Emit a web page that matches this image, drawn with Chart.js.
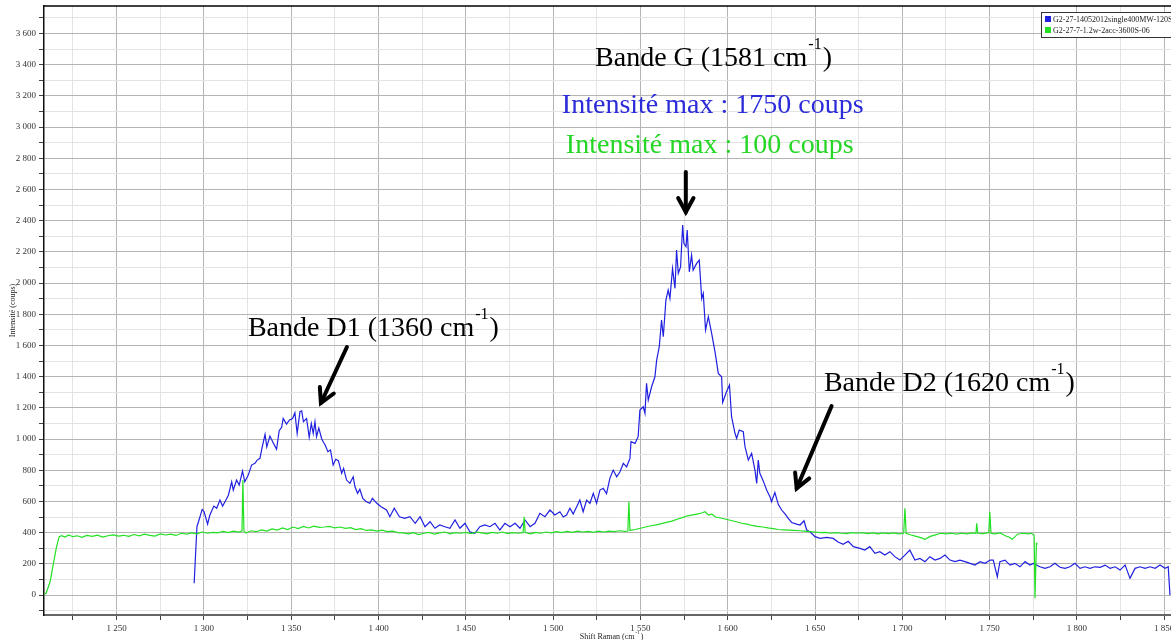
<!DOCTYPE html>
<html>
<head>
<meta charset="utf-8">
<title>Spectre Raman</title>
<script src="https://cdn.jsdelivr.net/npm/chart.js@4.4.1/dist/chart.umd.min.js"></script>
<style>
  html, body { margin: 0; padding: 0; background: #fff; overflow: hidden; }
  #wrap { width: 1171px; height: 640px; overflow: hidden; }
  canvas { display: block; }
</style>
</head>
<body>
<div id="wrap"><canvas id="raman" width="1200" height="640"></canvas></div>
<script>
const seriesLabels = ['G2-27-14052012single400MW-120S-01', 'G2-27-7-1.2w-2acc-3600S-06'];

const blueSpectrum = [
  [1294.4,75],[1296.0,438],[1297.2,481],[1299.0,549],[1300.1,534],[1302.1,455],[1303.4,513],[1305.7,570],
  [1307.3,556],[1309.2,609],[1310.7,570],[1312.6,609],[1314.0,640],[1315.9,726],[1316.8,673],[1318.7,737],
  [1320.2,705],[1322.1,795],[1323.4,726],[1325.4,769],[1327.3,833],[1329.2,844],[1330.5,865],[1332.1,876],
  [1333.0,929],[1335.0,1030],[1336.0,950],[1337.8,1019],[1339.5,980],[1341.6,934],[1343.1,1053],[1344.5,1075],
  [1345.4,1132],[1347.3,1096],[1349.0,1122],[1350.8,1132],[1352.1,1169],[1353.4,1036],[1355.0,1175],[1356.0,1181],
  [1357.0,1111],[1358.8,1132],[1360.3,1011],[1361.5,1100],[1362.6,1036],[1363.6,1111],[1364.5,1015],[1365.8,1070],
  [1367.4,1004],[1368.3,983],[1369.5,960],[1371.0,919],[1372.5,930],[1374.0,833],[1375.5,870],[1377.0,861],
  [1378.9,780],[1380.0,812],[1381.7,737],[1383.6,716],[1385.5,758],[1386.5,694],[1388.0,652],[1389.3,678],
  [1391.0,620],[1393.0,598],[1395.0,588],[1396.5,620],[1399.0,588],[1401.5,566],[1404.6,545],[1406.5,502],
  [1409.0,556],[1412.0,502],[1415.0,492],[1418.0,502],[1421.0,460],[1423.8,502],[1426.6,438],[1429.5,470],
  [1432.3,428],[1435.0,449],[1438.0,438],[1440.9,428],[1443.8,481],[1446.6,428],[1449.5,460],[1452.3,406],
  [1455.2,396],[1458.0,438],[1460.9,449],[1463.8,438],[1466.7,460],[1469.5,417],[1472.4,460],[1475.3,438],
  [1478.2,460],[1481.0,428],[1483.9,481],[1486.8,438],[1489.6,460],[1492.4,524],[1495.3,502],[1498.2,545],
  [1501.0,513],[1503.9,534],[1505.8,500],[1507.7,513],[1509.6,556],[1511.5,520],[1513.5,566],[1515.3,609],
  [1517.2,534],[1519.2,609],[1521.1,588],[1523.0,652],[1524.9,588],[1526.8,673],[1528.7,684],[1530.6,650],
  [1532.5,748],[1534.4,801],[1536.4,758],[1538.3,790],[1540.2,844],[1542.1,822],[1544.0,876],[1544.6,983],
  [1546.9,972],[1548.7,1015],[1549.7,1186],[1551.6,1207],[1552.6,1165],[1553.5,1357],[1554.5,1250],[1556.4,1335],
  [1558.3,1399],[1559.3,1506],[1560.8,1592],[1562.1,1763],[1563.1,1656],[1564.6,1891],[1565.9,1955],[1566.9,1902],
  [1568.4,2094],[1569.8,1966],[1570.7,2212],[1571.7,2062],[1573.0,2104],[1574.2,2372],[1574.9,2254],[1576.1,2233],
  [1576.8,2340],[1578.0,2072],[1579.3,2179],[1580.2,2083],[1582.2,2126],[1583.7,2147],[1585.1,1900],[1586.0,1934],
  [1587.3,1699],[1588.9,1784],[1590.8,1677],[1592.7,1560],[1594.6,1421],[1596.5,1399],[1597.1,1235],[1599.2,1300],
  [1601.0,1346],[1602.2,1143],[1604.1,1040],[1605.1,1004],[1606.6,1058],[1608.9,1047],[1609.9,951],[1611.8,865],
  [1613.7,908],[1615.6,801],[1616.6,716],[1617.5,865],[1618.4,780],[1620.4,730],[1622.3,673],[1624.2,630],
  [1625.1,598],[1627.0,657],[1629.0,580],[1630.9,545],[1632.8,520],[1634.7,492],[1636.6,465],[1639.5,455],
  [1641.4,449],[1643.7,476],[1645.2,417],[1647.1,406],[1650.0,374],[1652.9,363],[1656.7,370],[1660.4,363],
  [1663.2,340],[1666.1,325],[1669.0,345],[1672.0,310],[1675.7,299],[1678.5,288],[1681.4,310],[1684.3,267],
  [1687.1,278],[1690.0,256],[1692.9,278],[1695.7,246],[1698.6,224],[1701.5,256],[1704.3,288],[1707.2,224],
  [1710.1,235],[1713.0,214],[1715.8,246],[1718.7,224],[1721.6,235],[1724.4,256],[1727.3,224],[1730.2,214],
  [1733.0,224],[1735.9,214],[1738.8,203],[1741.6,192],[1744.5,214],[1747.4,203],[1750.3,224],[1752.1,224],
  [1754.4,117],[1755.9,214],[1758.8,224],[1761.7,192],[1764.5,203],[1767.4,181],[1770.3,214],[1773.1,192],
  [1775.0,203],[1778.8,181],[1781.7,171],[1784.6,181],[1787.4,203],[1790.3,178],[1793.2,171],[1796.0,181],
  [1798.9,203],[1801.8,171],[1804.6,181],[1807.5,171],[1810.4,181],[1813.3,178],[1816.1,192],[1819.0,171],
  [1821.9,181],[1824.7,160],[1827.6,192],[1830.4,107],[1833.3,171],[1836.2,181],[1839.0,171],[1841.9,181],
  [1844.8,171],[1847.6,192],[1850.5,171],[1852.3,181],[1853.3,0]
];

const greenSpectrum = [
  [1208.5,5],[1209.6,11],[1211.9,85],[1213.8,203],[1215.6,310],[1217.1,374],[1218.5,380],[1220.5,372],
  [1222.5,385],[1225.0,374],[1227.5,380],[1230,370],[1233,382],[1236,376],[1239,384],[1242,372],
  [1245,380],[1248,386],[1251,378],[1254,383],[1257,376],[1260,388],[1263,380],[1266,390],
  [1269,383],[1272,378],[1275,392],[1278,385],[1281,390],[1284,382],[1287,396],[1290,390],
  [1293,398],[1296,392],[1299,404],[1302,396],[1305,402],[1308,398],[1311,408],[1314,400],
  [1317,410],[1320,404],[1321.8,410],[1322.3,737],[1322.9,410],[1324,398],[1327,412],[1330,406],
  [1333,418],[1336,410],[1339,424],[1342,416],[1345,430],[1348,420],[1351,436],[1354,426],
  [1357,440],[1360,430],[1363,442],[1366,434],[1369,436],[1372,440],[1375,430],[1378,436],
  [1381,428],[1384,432],[1387,420],[1390,425],[1393,414],[1396,418],[1399,410],[1402,416],
  [1405,406],[1408,410],[1411,400],[1414,398],[1417,392],[1420,400],[1423,388],[1426,396],
  [1429,402],[1432,390],[1435,398],[1438,404],[1441,392],[1444,400],[1447,396],[1450,402],
  [1453,394],[1456,404],[1459,398],[1462,392],[1465,402],[1468,396],[1471,404],[1474,394],
  [1477,400],[1480,396],[1482.8,400],[1483.4,502],[1484,400],[1487,392],[1490,402],[1493,396],
  [1496,404],[1499,398],[1502,406],[1505,400],[1508,408],[1511,402],[1514,410],[1517,404],
  [1520,408],[1523,402],[1526,410],[1529,404],[1532,410],[1535,406],[1538,412],[1541,408],
  [1542.8,410],[1543.4,598],[1544,414],[1547,420],[1550,428],[1553,436],[1556,444],[1559,450],
  [1562,458],[1565,466],[1568,474],[1571,486],[1574,496],[1577,508],[1580,514],[1583,520],
  [1585,526],[1587,534],[1589,512],[1591,518],[1593,500],[1596,494],[1599,486],[1602,478],
  [1605,470],[1608,460],[1611,454],[1614,446],[1617,440],[1620,436],[1623,430],[1626,426],
  [1629,420],[1632,418],[1635,416],[1638,414],[1641,412],[1644,410],[1647,406],[1650,404],
  [1653,400],[1656,402],[1659,396],[1662,400],[1665,396],[1668,394],[1671,400],[1674,396],
  [1677,400],[1680,394],[1683,398],[1686,392],[1689,398],[1692,394],[1695,398],[1698,392],
  [1700.8,396],[1701.5,556],[1702.2,396],[1705,385],[1708,376],[1711,366],[1713,357],[1716,376],
  [1719,386],[1722,396],[1725,392],[1728,396],[1731,390],[1734,396],[1737,392],[1740,398],
  [1742.2,396],[1742.6,460],[1743.2,396],[1746,394],[1749.5,400],[1750.1,534],[1750.8,396],[1753,392],
  [1756,398],[1759,380],[1761,372],[1763,357],[1766,390],[1769,396],[1772,392],[1774,396],
  [1775.5,385],[1776,-20],[1776.8,331],[1777.5,325]
];

// Graduations
const xTicks = [1225, 1250, 1275, 1300, 1325, 1350, 1375, 1400, 1425, 1450, 1475, 1500, 1525,
  1550, 1575, 1600, 1625, 1650, 1675, 1700, 1725, 1750, 1775, 1800, 1825, 1850];
const yTicks = [-100, 0, 100, 200, 300, 400, 500, 600, 700, 800, 900, 1000, 1100, 1200, 1300,
  1400, 1500, 1600, 1700, 1800, 1900, 2000, 2100, 2200, 2300, 2400, 2500, 2600, 2700, 2800,
  2900, 3000, 3100, 3200, 3300, 3400, 3500, 3600, 3700];

// Annotations (coordonnées dans le repère des données)
const labels = [
  { text: 'Bande G (1581 cm', sup: '-1', tail: ')', x: 1524, y: 3391, color: '#000000' },
  { text: 'Intensité max : 1750 coups', x: 1505, y: 3090, color: '#2b2bd9' },
  { text: 'Intensité max : 100 coups', x: 1507.3, y: 2833, color: '#26d626' },
  { text: 'Bande D1 (1360 cm', sup: '-1', tail: ')', x: 1325.2, y: 1660, color: '#000000' },
  { text: 'Bande D2 (1620 cm', sup: '-1', tail: ')', x: 1655.1, y: 1308, color: '#000000' }
];
const arrows = [
  { from: [1576, 2712], to: [1576, 2455] },
  { from: [1381.9, 1590], to: [1367, 1231] },
  { from: [1659.5, 1212], to: [1639.5, 684] }
];

const SERIF = '"Liberation Serif", "Times New Roman", serif';
const BLUE = '#2020e0';
const GREEN = '#22e022';

function fmt(v) {
  return String(v).replace(/\B(?=(\d{3})+(?!\d))/g, ' ');
}

// texte avec exposant
function drawSupText(ctx, x, y, size, color, text, sup, tail) {
  ctx.save();
  ctx.fillStyle = color;
  ctx.textBaseline = 'alphabetic';
  ctx.textAlign = 'left';
  ctx.font = size + 'px ' + SERIF;
  ctx.fillText(text, x, y);
  let cx = x + ctx.measureText(text).width;
  if (sup) {
    const s = Math.round(size * 0.58);
    ctx.font = s + 'px ' + SERIF;
    ctx.fillText(sup, cx + 1, y - size * 0.62);
    cx += ctx.measureText(sup).width + 2;
    ctx.font = size + 'px ' + SERIF;
    ctx.fillText(tail, cx, y);
  }
  ctx.restore();
}

const decorations = {
  id: 'decorations',
  afterDatasetsDraw(chart) {
    const { ctx, chartArea, scales } = chart;
    const xs = scales.x, ys = scales.y;

    // bord supérieur
    ctx.save();
    ctx.strokeStyle = '#000';
    ctx.lineWidth = 1.5;
    ctx.beginPath();
    ctx.moveTo(chartArea.left, chartArea.top);
    ctx.lineTo(chartArea.right, chartArea.top);
    ctx.stroke();
    ctx.restore();

    // textes
    labels.forEach(l => {
      drawSupText(ctx, xs.getPixelForValue(l.x), ys.getPixelForValue(l.y), 28, l.color, l.text, l.sup, l.tail);
    });

    // flèches
    ctx.save();
    ctx.strokeStyle = '#000';
    ctx.lineWidth = 4;
    ctx.lineCap = 'round';
    ctx.lineJoin = 'miter';
    arrows.forEach(a => {
      const x1 = xs.getPixelForValue(a.from[0]), y1 = ys.getPixelForValue(a.from[1]);
      const x2 = xs.getPixelForValue(a.to[0]), y2 = ys.getPixelForValue(a.to[1]);
      const ang = Math.atan2(y2 - y1, x2 - x1);
      const head = 16;
      ctx.beginPath();
      ctx.moveTo(x1, y1);
      ctx.lineTo(x2, y2);
      ctx.stroke();
      ctx.beginPath();
      ctx.moveTo(x2 - head * Math.cos(ang - 0.5), y2 - head * Math.sin(ang - 0.5));
      ctx.lineTo(x2, y2);
      ctx.lineTo(x2 - head * Math.cos(ang + 0.5), y2 - head * Math.sin(ang + 0.5));
      ctx.stroke();
    });
    ctx.restore();

    // légende
    const lx = chartArea.right - 159, ly = chartArea.top + 6;
    ctx.save();
    ctx.fillStyle = '#fff';
    ctx.fillRect(lx, ly, 220, 25);
    ctx.strokeStyle = '#333';
    ctx.lineWidth = 1;
    ctx.strokeRect(lx + 0.5, ly + 0.5, 220, 25);
    ctx.font = '8px ' + SERIF;
    ctx.textBaseline = 'middle';
    chart.data.datasets.forEach((ds, i) => {
      const yy = ly + 7 + i * 11;
      ctx.fillStyle = ds.borderColor;
      ctx.fillRect(lx + 4, yy - 3, 6, 6);
      ctx.fillStyle = '#222';
      ctx.fillText(ds.label, lx + 12, yy + 0.5);
    });
    ctx.restore();

    // titres des axes
    drawSupText(ctx, xs.getPixelForValue(1532.5) - 30, 639, 8, '#222', 'Shift Raman (cm', '-1', ')');
    ctx.save();
    ctx.translate(15, (chartArea.top + chartArea.bottom) / 2);
    ctx.rotate(-Math.PI / 2);
    ctx.font = '8px ' + SERIF;
    ctx.fillStyle = '#222';
    ctx.textAlign = 'center';
    ctx.fillText('Intensité (coups)', 0, 0);
    ctx.restore();
  }
};

new Chart(document.getElementById('raman'), {
  type: 'line',
  data: {
    datasets: [{
      label: seriesLabels[0],
      data: blueSpectrum.map(p => ({ x: p[0], y: p[1] })),
      borderColor: BLUE,
      borderWidth: 1.2,
      order: 1
    }, {
      label: seriesLabels[1],
      data: greenSpectrum.map(p => ({ x: p[0], y: p[1] })),
      borderColor: GREEN,
      borderWidth: 1.2,
      order: 0
    }]
  },
  options: {
    responsive: false,
    animation: false,
    devicePixelRatio: 1,
    layout: { padding: { top: 6, left: 0, right: 0, bottom: 0 } },
    elements: { point: { radius: 0 }, line: { tension: 0 } },
    plugins: { legend: { display: false }, tooltip: { enabled: false } },
    scales: {
      x: {
        type: 'linear',
        min: 1208.4,
        max: 1870.5,
        afterBuildTicks: axis => { axis.ticks = xTicks.map(v => ({ value: v })); },
        afterFit: axis => { axis.height = 25; axis.paddingLeft = 0; axis.paddingRight = 0; },
        ticks: {
          autoSkip: false, maxRotation: 0, padding: 3, color: '#333',
          font: { family: SERIF, size: 9 },
          callback: v => (v % 50 === 0 ? fmt(v) : '')
        },
        grid: {
          color: c => (c.tick && c.tick.value % 50 === 0 ? '#b4b4b4' : '#e3e3e3'),
          tickColor: '#444',
          tickLength: 5
        },
        border: { color: '#666', width: 2 }
      },
      y: {
        min: -128,
        max: 3776,
        afterBuildTicks: axis => { axis.ticks = yTicks.map(v => ({ value: v })); },
        afterFit: axis => { axis.width = 44; axis.paddingTop = 0; axis.paddingBottom = 0; },
        ticks: {
          autoSkip: false, padding: 3, color: '#333',
          font: { family: SERIF, size: 9 },
          callback: v => (v % 200 === 0 ? fmt(v) : '')
        },
        grid: {
          color: c => (c.tick && c.tick.value % 200 === 0 ? '#b4b4b4' : '#e3e3e3'),
          tickColor: '#444',
          tickLength: 5
        },
        border: { color: '#111', width: 1.5 }
      }
    }
  },
  plugins: [decorations]
});
</script>
</body>
</html>
